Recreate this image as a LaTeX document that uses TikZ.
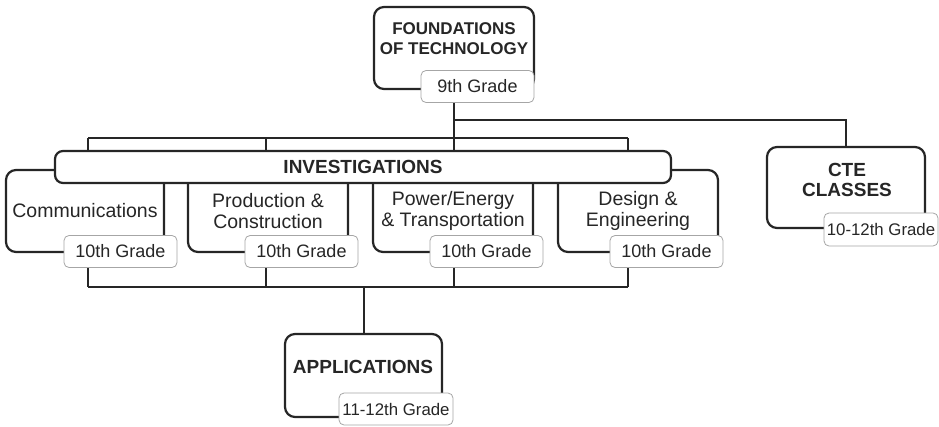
\documentclass[tikz,border=0pt]{standalone}
\usepackage{fontspec}
\setmainfont{Liberation Sans}
\usetikzlibrary{positioning,backgrounds}
\tikzset{
  frame/.style={draw=black!85,line width=2.2pt,rounded corners=10pt,fill=white,
    align=center,inner sep=0pt,font=\fontsize{19.5}{21.5}\selectfont},
  tab/.style={draw=black!35,line width=0.8pt,rounded corners=5pt,fill=white,
    minimum width=113pt,minimum height=32pt,inner sep=0pt,
    font=\fontsize{18}{21}\selectfont},
  title/.style={align=center,inner sep=0pt,font=\bfseries\fontsize{19}{20}\selectfont},
  conn/.style={draw=black!85,line width=2pt},
}

\begin{document}
\begin{tikzpicture}[x=1pt,y=-1pt,text=black!85]
	\useasboundingbox (0,0) rectangle (939,426);
	% 9th grade
	\node[frame,minimum width=160pt,minimum height=82pt] (fnd) at (454,48) {};
	\node[title,font=\bfseries\fontsize{17}{20}\selectfont] (fndtitle) at (454,39) {FOUNDATIONS\\OF TECHNOLOGY};
	\node[tab] (fndtab) at (477.5,86.5) {9th Grade};
	% 10th grade investigations
	\node[frame,minimum width=158pt,minimum height=82pt] (comm) at (85,211) {Communications};
	\node[frame,minimum width=160pt,minimum height=82pt] (prod) at (268,211) {Production \&\\Construction};
	\node[frame,minimum width=160pt,minimum height=82pt] (power) at (453,211) {Power/Energy\\\& Transportation};
	\node[frame,minimum width=160pt,minimum height=82pt] (design) at (638,211) {Design \&\\Engineering};
	\node[frame,rounded corners=8pt,minimum width=616pt,minimum height=32pt,
		font=\bfseries\fontsize{19}{20}\selectfont] (inv) at (363,167) {INVESTIGATIONS};
	\node[tab] (t1) at (120.5,251.5) {10th Grade};
	\node[tab] (t2) at (301.5,251.5) {10th Grade};
	\node[tab] (t3) at (486.5,251.5) {10th Grade};
	\node[tab] (t4) at (666.5,251.5) {10th Grade};
	% CTE
	\node[frame,minimum width=158pt,minimum height=81pt] (cte) at (846,187.5) {};
	\node[title] (ctetitle) at (847,180) {CTE\\CLASSES};
	\node[tab,minimum width=114pt,minimum height=33pt,font=\fontsize{16.8}{20}\selectfont] (ctetab) at (881,229.5) {10-12th Grade};
	% applications
	\node[frame,minimum width=157pt,minimum height=83pt] (app) at (363.5,375.5) {};
	\node[title] (apptitle) at (363,367) {APPLICATIONS};
	\node[tab,minimum width=114pt,font=\fontsize{16.8}{20}\selectfont] (apptab) at (396,409) {11-12th Grade};
	% connectors
	\coordinate (upper) at (454,120);
	\coordinate (lower) at (454,138);
	\coordinate (bottom) at (363,287);
	\coordinate (d1) at (88,268);
	\coordinate (d2) at (266,268);
	\coordinate (d3) at (454,268);
	\coordinate (d4) at (628,268);
	\begin{scope}[on background layer]
	\draw[conn] (fnd.south) -- (lower);
	\draw[conn] (upper) -| (cte.north);
	\draw[conn] (d1 |- lower) -- (d4 |- lower);
	\draw[conn] (d1 |- bottom) -- (d4 |- bottom);
	\foreach \i in {1,...,4}
		\draw[conn] (d\i |- lower) -- (d\i |- inv.north)
			(d\i) -- (d\i |- bottom);
	\draw[conn] (app.north) -- (app.north |- bottom);
	\end{scope}
\end{tikzpicture}
\end{document}
